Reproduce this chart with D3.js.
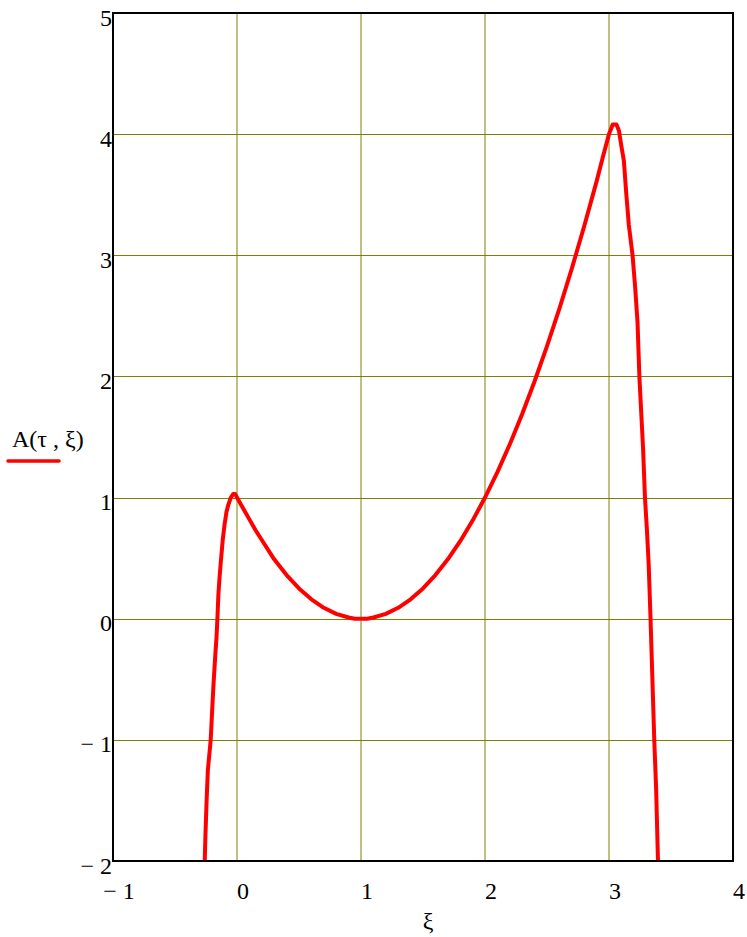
<!DOCTYPE html>
<html>
  <head>
    <title>A(tau, xi) | D3</title>
    <style>
        body {
            margin: 0;
            background: white;
        }
        text {
            font-family: "Liberation Serif", "Times New Roman", serif;
            font-size: 24px;
            fill: black;
        }
    </style>
    <script src="https://d3js.org/d3.v7.min.js" charset="utf-8"></script>
  </head>
  <body>
    <script>
    // values
    var xiVals = [-0.26, -0.255, -0.245, -0.235, -0.212, -0.2, -0.19, -0.175, -0.165, -0.158,
                  -0.15, -0.14, -0.128, -0.115, -0.1, -0.085, -0.07, -0.05, -0.03, -0.015,
                  0.0, 0.05, 0.1, 0.15, 0.2, 0.3, 0.4, 0.5, 0.6, 0.7,
                  0.8, 0.9, 0.95, 1.05, 1.1, 1.2, 1.3, 1.4, 1.5, 1.6,
                  1.7, 1.8, 1.9, 2.0, 2.1, 2.2, 2.3, 2.4, 2.5, 2.6,
                  2.7, 2.8, 2.9, 2.95, 3.0, 3.03, 3.06, 3.08, 3.1, 3.12,
                  3.14, 3.16, 3.19, 3.21, 3.23, 3.245, 3.26, 3.275, 3.29, 3.305,
                  3.32, 3.335, 3.35, 3.365, 3.38, 3.39, 3.395];
    var aVals = [-2.0, -1.8, -1.5, -1.25, -1.0, -0.75, -0.55, -0.3, -0.15, 0.0,
                 0.2, 0.35, 0.5, 0.65, 0.78, 0.88, 0.94, 1.0, 1.03, 1.03,
                 1.0, 0.91, 0.82, 0.73, 0.65, 0.49, 0.36, 0.25, 0.16, 0.09,
                 0.04, 0.01, 0.0, 0.0, 0.01, 0.04, 0.09, 0.16, 0.25, 0.36,
                 0.49, 0.64, 0.81, 1.0, 1.21, 1.44, 1.69, 1.96, 2.25, 2.56,
                 2.89, 3.24, 3.61, 3.81, 4.0, 4.08, 4.08, 4.03, 3.9, 3.78,
                 3.5, 3.25, 3.0, 2.75, 2.45, 2.0, 1.7, 1.4, 1.0, 0.75,
                 0.45, 0.0, -0.5, -1.0, -1.4, -1.8, -2.0];
    var xTicks = [-1, 0, 1, 2, 3, 4];
    var yTicks = [-2, -1, 0, 1, 2, 3, 4, 5];
    var xGrid = [0, 1, 2, 3];
    var yGrid = [-1, 0, 1, 2, 3, 4];

    var width = 747;
    var height = 937;

    var svg = d3.select("body")
        .append("svg")
        .attr("width", width)
        .attr("height", height);

    // plot box
    var x = d3.scaleLinear().domain([-1, 4]).range([113, 733]);
    var y = d3.scaleLinear().domain([-2, 5]).range([861, 13]);

    // mathcad style minus with a space
    function fmt(v) {
        return v < 0 ? "\u2212 " + Math.abs(v) : String(v);
    }

    // grid lines
    var grid = svg.append("g");
    grid.selectAll(".vgrid")
        .data(xGrid)
        .enter()
        .append("line")
        .attr("class", "vgrid")
        .attr("x1", function(d) { return x(d); })
        .attr("x2", function(d) { return x(d); })
        .attr("y1", y(-2))
        .attr("y2", y(5))
        .style("stroke", "#808000")
        .style("stroke-width", 1);
    grid.selectAll(".hgrid")
        .data(yGrid)
        .enter()
        .append("line")
        .attr("class", "hgrid")
        .attr("x1", x(-1))
        .attr("x2", x(4))
        .attr("y1", function(d) { return Math.round(y(d)) + 0.5; })
        .attr("y2", function(d) { return Math.round(y(d)) + 0.5; })
        .style("stroke", "#808000")
        .style("stroke-width", 1);

    // the curve
    var pts = d3.zip(xiVals, aVals);
    var line = d3.line()
        .x(function(d) { return x(d[0]); })
        .y(function(d) { return y(d[1]); });
    svg.append("path")
        .datum(pts)
        .attr("d", line)
        .attr("fill", "none")
        .style("stroke", "#ff0000")
        .style("stroke-width", 4)
        .style("stroke-linejoin", "round");

    // frame
    svg.append("rect")
        .attr("x", x(-1))
        .attr("y", y(5))
        .attr("width", x(4) - x(-1))
        .attr("height", y(-2) - y(5))
        .attr("fill", "none")
        .style("stroke", "black")
        .style("stroke-width", 2);

    // tick labels
    svg.append("g").selectAll("text")
        .data(yTicks)
        .enter()
        .append("text")
        .attr("x", 112)
        .attr("y", function(d) { return y(d) + 12.5; })
        .style("text-anchor", "end")
        .text(fmt);
    svg.append("g").selectAll("text")
        .data(xTicks)
        .enter()
        .append("text")
        .attr("x", function(d) { return x(d) + 6; })
        .attr("y", 899)
        .style("text-anchor", "middle")
        .text(fmt);

    // axis titles
    svg.append("text")
        .attr("x", 428)
        .attr("y", 929)
        .style("text-anchor", "middle")
        .text("\u03be");
    svg.append("text")
        .attr("x", 12)
        .attr("y", 447)
        .text("A(\u03c4 , \u03be)");
    svg.append("line")
        .attr("x1", 8)
        .attr("x2", 59)
        .attr("y1", 461)
        .attr("y2", 461)
        .style("stroke", "#ff0000")
        .style("stroke-width", 3.5)
        .style("stroke-linecap", "round");
    </script>
  </body>
</html>
